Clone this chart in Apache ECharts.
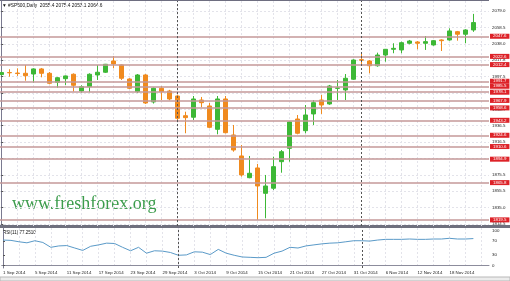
<!DOCTYPE html>
<html><head><meta charset="utf-8">
<script src="https://cdn.jsdelivr.net/npm/echarts@6/dist/echarts.min.js"></script>
<style>html,body{margin:0;padding:0;background:#fff}#c{width:510px;height:281px}</style>
</head><body><div id="c"></div>
<script>
const dates = ['1 Sep 2014','2 Sep 2014','3 Sep 2014','4 Sep 2014','5 Sep 2014','8 Sep 2014','9 Sep 2014','10 Sep 2014','11 Sep 2014','12 Sep 2014',
'15 Sep 2014','16 Sep 2014','17 Sep 2014','18 Sep 2014','19 Sep 2014','22 Sep 2014','23 Sep 2014','24 Sep 2014','25 Sep 2014','26 Sep 2014',
'29 Sep 2014','30 Sep 2014','1 Oct 2014','2 Oct 2014','3 Oct 2014','6 Oct 2014','7 Oct 2014','8 Oct 2014','9 Oct 2014','10 Oct 2014',
'13 Oct 2014','14 Oct 2014','15 Oct 2014','16 Oct 2014','17 Oct 2014','20 Oct 2014','21 Oct 2014','22 Oct 2014','23 Oct 2014','24 Oct 2014',
'27 Oct 2014','28 Oct 2014','29 Oct 2014','30 Oct 2014','31 Oct 2014','3 Nov 2014','4 Nov 2014','5 Nov 2014','6 Nov 2014','7 Nov 2014',
'10 Nov 2014','11 Nov 2014','12 Nov 2014','13 Nov 2014','14 Nov 2014','17 Nov 2014','18 Nov 2014','19 Nov 2014','20 Nov 2014','21 Nov 2014'];
const opens = [2000.0,2002.6,2001.9,2001.6,2000.7,2007.0,2001.6,1990.4,1994.9,2000.4,
1979.6,1985.0,1999.5,2002.9,2016.9,2011.9,1994.5,1978.8,1999.5,1966.0,
1983.0,1979.6,1973.4,1948.9,1947.0,1968.4,1961.0,1932.0,1969.7,1925.0,
1898.9,1871.9,1884.0,1852.5,1858.8,1891.8,1908.4,1944.8,1930.3,1951.1,
1968.4,1963.5,1983.0,1980.9,1994.2,2018.5,2016.9,2011.0,2024.3,2031.4,
2030.6,2038.9,2040.5,2038.9,2036.8,2043.0,2043.0,2053.3,2050.1,2055.4];
const closes = [2002.5,2002.2,2001.3,1998.6,2007.0,2001.6,1989.2,1996.1,1998.3,1986.7,
1985.0,2000.4,2002.9,2012.8,2013.2,1995.4,1983.0,1999.5,1964.7,1983.0,
1978.8,1969.7,1945.7,1946.5,1969.7,1965.1,1934.5,1969.7,1927.8,1906.3,
1875.3,1877.4,1861.6,1861.6,1885.6,1904.2,1941.1,1927.1,1949.8,1965.1,
1962.2,1985.8,1983.4,1995.4,2018.1,2017.8,2011.0,2024.3,2031.4,2032.6,
2039.6,2041.7,2038.9,2040.9,2042.1,2042.1,2054.2,2050.1,2055.4,2064.6];
const lows = [1999.0,1997.4,1998.3,1992.4,1989.9,1996.6,1987.9,1983.7,1987.1,1978.8,
1977.5,1978.0,1993.3,2002.0,2007.8,1993.3,1982.0,1977.1,1963.5,1964.0,
1968.4,1968.0,1942.7,1927.1,1943.6,1959.4,1933.3,1925.8,1927.0,1904.2,
1873.2,1871.2,1819.4,1821.5,1856.6,1878.1,1891.8,1925.8,1927.1,1937.4,
1951.1,1962.5,1968.4,1968.4,1993.3,2013.2,2001.6,2009.8,2016.0,2026.5,
2026.5,2037.6,2031.4,2030.6,2035.9,2029.3,2042.1,2042.1,2038.9,2053.1];
const highs = [2003.5,2006.6,2007.8,2011.9,2007.8,2008.2,2003.2,1997.0,1998.8,2001.5,
1986.7,2001.6,2011.9,2013.2,2023.1,2012.5,1995.5,2000.7,2000.5,1984.0,
1985.8,1981.0,1975.0,1953.9,1973.4,1972.2,1964.7,1973.4,1973.4,1937.4,
1912.5,1898.9,1889.0,1875.3,1898.0,1906.3,1941.5,1949.8,1962.2,1968.4,
1974.7,1987.1,1993.3,2000.7,2019.0,2026.5,2018.1,2027.2,2031.8,2038.9,
2040.9,2043.0,2041.7,2047.9,2043.0,2043.8,2057.5,2054.2,2056.3,2075.4];
const rsi = [73,72,68,65,71,66,52,56,57,50,
43,55,59,64,63,52,42,52,35,42,
41,37,29,30,39,38,31,46,35,29,
24,23,22,23,35,41,52,50,56,59,
62,64,65,68,71,71,70,73,75,75,
75,76,75,75,76,76,78,76,76,77.251];
const levels = [2047.6,2022.6,2012.4,1991.7,1985.5,1978.1,1967.9,1958.6,1943.2,1924.6,1910.6,1894.9,1865.8,1819.5];
const lastPrice = 2064.6;
const priceTicks = [2079.0,2058.5,2038.0,2017.8,1997.5,1977.0,1956.7,1936.5,1916.5,1896.0,1875.5,1855.5,1835.0,1814.5];
const rsiTicks = [0,30,70,100];
const monthStarts = ['1 Oct 2014','3 Nov 2014'];
const titleText = '\u25BC #SP500,Daily  2055.4 2075.4 2053.1 2064.6';
const rsiText = 'RSI(11) 77.2510';
const watermark = 'www.freshforex.org';

const N = dates.length;
const gridTicks = []; for (let i = 0; i <= N; i += 2) gridTicks.push(i);
const labelTicks = []; for (let i = 0; i < N; i += 4) labelTicks.push(i);
const sepIdx = monthStarts.map(d => dates.indexOf(d));
const candles = dates.map((d, i) => [i, opens[i], closes[i], lows[i], highs[i]]);
const rsiData = dates.map((d, i) => [i, rsi[i]]);

const FONT = '"Liberation Sans", Arial, sans-serif';
const AX = 4.4;
const gridLine = { show: true, lineStyle: { color: '#e3e3ea', type: [2, 2], width: 1 } };
const XMIN = -0.16, XMAX = 60.96;

const chart = echarts.init(document.getElementById('c'), null, { renderer: 'canvas' });
chart.setOption({
  animation: false,
  backgroundColor: '#ffffff',
  grid: [
    { left: 0, right: 21, top: 1, height: 225 },
    { left: 0, right: 21, top: 228, height: 40 }
  ],
  xAxis: [
    { type: 'value', gridIndex: 0, min: XMIN, max: XMAX,
      axisLine: { show: false }, axisTick: { show: false, customValues: gridTicks },
      axisLabel: { show: false }, splitLine: gridLine },
    { type: 'value', gridIndex: 1, min: XMIN, max: XMAX,
      axisLine: { show: true, lineStyle: { color: '#8c8c9c', width: 1 } },
      axisTick: { show: false, customValues: gridTicks },
      axisLabel: { show: true, customValues: labelTicks, formatter: v => dates[Math.round(v)] || '',
        align: 'left', fontSize: AX, fontFamily: FONT, color: '#222', margin: 3, hideOverlap: false },
      splitLine: gridLine }
  ],
  yAxis: [
    { type: 'value', gridIndex: 0, position: 'right', min: 1811.9, max: 2091.4, scale: true,
      axisLine: { show: true, lineStyle: { color: '#7a7a90', width: 1 } },
      axisTick: { show: true, length: 2, customValues: priceTicks, lineStyle: { color: '#555' } },
      axisLabel: { show: true, customValues: priceTicks, formatter: v => v.toFixed(1),
        fontSize: AX, fontFamily: FONT, color: '#222', margin: 3 },
      splitLine: gridLine },
    { type: 'value', gridIndex: 1, position: 'right', min: -7.8, max: 107.8,
      axisLine: { show: true, lineStyle: { color: '#7a7a90', width: 1 } },
      axisTick: { show: true, length: 2, customValues: rsiTicks, lineStyle: { color: '#555' } },
      axisLabel: { show: true, customValues: rsiTicks, formatter: v => String(v),
        fontSize: AX, fontFamily: FONT, color: '#222', margin: 3 },
      splitLine: { show: false } }
  ],
  series: [
    { type: 'candlestick', xAxisIndex: 0, yAxisIndex: 0, data: candles,
      encode: { x: 0, y: [1, 2, 3, 4] }, barWidth: 5,
      itemStyle: { color: '#3db836', color0: '#f08a1e', borderColor: '#3db836', borderColor0: '#f08a1e', borderWidth: 1 },
      markLine: { silent: true, symbol: ['none', 'none'], animation: false,
        lineStyle: { color: '#c49898', width: 1.6, type: 'solid' },
        label: { show: true, position: 'end', distance: 1, formatter: p => Number(p.value).toFixed(1),
          color: '#fff', backgroundColor: '#dd2228', padding: [1, 3, 0, 3], fontSize: AX, fontFamily: FONT },
        data: levels.map(v => ({ yAxis: v })).concat([
          { yAxis: lastPrice, lineStyle: { opacity: 0 },
            label: { backgroundColor: '#1c1c66', color: '#fff' } },
          ...sepIdx.map(i => ({ xAxis: i, lineStyle: { color: '#555', width: 1, type: [2, 2] }, label: { show: false } }))
        ]) } },
    { type: 'line', xAxisIndex: 1, yAxisIndex: 1, data: rsiData, showSymbol: false, symbol: 'none',
      lineStyle: { color: '#5a9ac8', width: 1 },
      markLine: { silent: true, symbol: ['none', 'none'], animation: false, label: { show: false },
        lineStyle: { color: '#555', width: 1, type: [2, 2] },
        data: sepIdx.map(i => ({ xAxis: i })) } }
  ],
  graphic: [
    { type: 'rect', shape: { x: 0, y: 0, width: 489, height: 1 }, style: { fill: '#6e6e80' }, silent: true },
    { type: 'rect', shape: { x: 0, y: 225, width: 510, height: 3 }, style: { fill: '#70707e' }, silent: true },
    { type: 'rect', shape: { x: 0, y: 277, width: 510, height: 4 }, style: { fill: '#ececec', stroke: '#b8b8b8', lineWidth: 1 }, silent: true },
    { type: 'text', left: 2, top: 3, style: { text: titleText, fontSize: 4.8, fontFamily: FONT, fill: '#111' }, silent: true },
    { type: 'text', left: 3, top: 230, style: { text: rsiText, fontSize: 4.5, fontFamily: FONT, fill: '#111' }, silent: true },
    { type: 'text', left: 12, top: 195, style: { text: watermark, fontSize: 18, fontFamily: '"Liberation Serif", "Times New Roman", serif', fill: '#3c9c4c' }, silent: true }
  ]
});
</script></body></html>
